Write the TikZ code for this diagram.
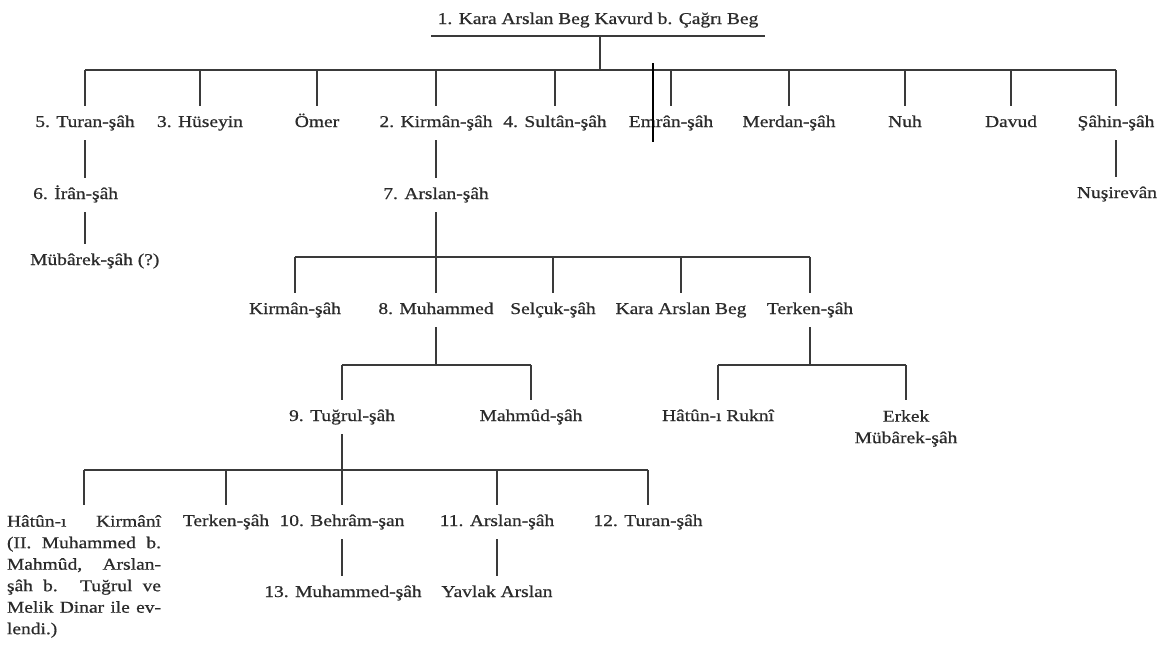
\documentclass[tikz,border=0pt]{standalone}
\usepackage{fontspec}
\setmainfont[FakeStretch=1.18,FakeBold=0.7]{Liberation Serif}
\definecolor{treeInk}{HTML}{2B2B2B}
\definecolor{treeLine}{HTML}{3A3A3A}
\tikzset{
  every picture/.style={font=\fontsize{16.5}{21.5}\selectfont, text=treeInk},
  tree person/.style={inner xsep=2pt, inner ysep=9pt, text height=12pt, text depth=4pt},
  tree note/.style={align=left, inner xsep=0pt, inner ysep=10pt},
  tree line/.style={draw=treeLine, line width=2.1pt},
  stray mark/.style={draw=black, line width=1.2pt}
}
\begin{document}
\begin{tikzpicture}[x=1pt,y=-1pt]
  \useasboundingbox[fill=white] (0,0) rectangle (1168,651);
  % founder
  \node[tree person, inner xsep=6pt, inner ysep=8pt] (kavurd) at (598,20) {1. Kara Arslan Beg Kavurd b. Çağrı Beg};
  \draw[tree line] (kavurd.south west) -- (kavurd.south east);
  \coordinate (b1) at (600,70);
  % his sons
  \node[tree person] (turan) at (85,123) {5. Turan-şâh};
  \node[tree person] (huseyin) at (200,123) {3. Hüseyin};
  \node[tree person] (omer) at (317,123) {Ömer};
  \node[tree person] (kirman) at (436,123) {2. Kirmân-şâh};
  \node[tree person] (sultan) at (555,123) {4. Sultân-şâh};
  \node[tree person] (emran) at (671,123) {Emrân-şâh};
  \node[tree person] (merdan) at (789,123) {Merdan-şâh};
  \node[tree person] (nuh) at (905,123) {Nuh};
  \node[tree person] (davud) at (1011,123) {Davud};
  \node[tree person] (sahin) at (1116,123) {Şâhin-şâh};
  \draw[tree line] (b1 |- kavurd.south) -- (b1);
  \draw[tree line] (turan.north |- b1) -- (sahin.north |- b1);
  \foreach \n in {turan,huseyin,omer,kirman,sultan,emran,merdan,nuh,davud,sahin}
    \draw[tree line] (\n.north |- b1) -- (\n.north);
  \draw[stray mark] (653,63) -- (653,142);
  % Turan-şâh line
  \node[tree person, anchor=west] (iran) at (31,195) {6. İrân-şâh};
  \node[tree person, anchor=west] (mubarek) at (28,261) {Mübârek-şâh (?)};
  \draw[tree line] (turan.south) -- (turan.south |- iran.north);
  \draw[tree line] (turan.south |- iran.south) -- (turan.south |- mubarek.north);
  % Şâhin-şâh line
  \node[tree person] (nusirevan) at (1117,194) {Nuşirevân};
  \draw[tree line] (sahin.south) -- (sahin.south |- nusirevan.north);
  % Kirmân-şâh line
  \node[tree person] (arslan7) at (436,195) {7. Arslan-şâh};
  \draw[tree line] (kirman.south) -- (arslan7.north);
  \coordinate (b2) at (436,257);
  \node[tree person] (kirman2) at (295,310) {Kirmân-şâh};
  \node[tree person] (muhammed) at (436,310) {8. Muhammed};
  \node[tree person] (selcuk) at (553,310) {Selçuk-şâh};
  \node[tree person] (karaarslan) at (681,310) {Kara Arslan Beg};
  \node[tree person] (terken) at (810,310) {Terken-şâh};
  \draw[tree line] (arslan7.south) -- (b2);
  \draw[tree line] (kirman2.north |- b2) -- (terken.north |- b2);
  \foreach \n in {kirman2,muhammed,selcuk,karaarslan,terken}
    \draw[tree line] (\n.north |- b2) -- (\n.north);
  % Muhammed line
  \coordinate (b3) at (436,365);
  \node[tree person] (tugrul) at (342,417) {9. Tuğrul-şâh};
  \node[tree person] (mahmud) at (531,417) {Mahmûd-şâh};
  \draw[tree line] (muhammed.south) -- (b3);
  \draw[tree line] (tugrul.north |- b3) -- (mahmud.north |- b3);
  \foreach \n in {tugrul,mahmud}
    \draw[tree line] (\n.north |- b3) -- (\n.north);
  % Terken-şâh line
  \coordinate (b3t) at (810,365);
  \node[tree person] (hatunr) at (718,417) {Hâtûn-ı Ruknî};
  \node[tree note, align=center, anchor=north] (erkek) at (906,400) {Erkek\\Mübârek-şâh};
  \draw[tree line] (terken.south) -- (b3t);
  \draw[tree line] (hatunr.north |- b3t) -- (erkek.north |- b3t);
  \foreach \n in {hatunr,erkek}
    \draw[tree line] (\n.north |- b3t) -- (\n.north);
  % Tuğrul-şâh line
  \coordinate (b4) at (342,470);
  \node[tree note, anchor=north] (hatunk) at (84,505) {%
    \makebox[154pt][s]{Hâtûn-ı Kirmânî}\\
    \makebox[154pt][s]{(II. Muhammed b.}\\
    \makebox[154pt][s]{Mahmûd, Arslan-}\\
    \makebox[154pt][s]{şâh b. Tuğrul ve}\\
    \makebox[154pt][s]{Melik Dinar ile ev-}\\
    lendi.)};
  \node[tree person] (terken2) at (226,522) {Terken-şâh};
  \node[tree person] (behram) at (342,522) {10. Behrâm-şan};
  \node[tree person] (arslan11) at (497,522) {11. Arslan-şâh};
  \node[tree person] (turan12) at (648,522) {12. Turan-şâh};
  \draw[tree line] (tugrul.south) -- (behram.north);
  \draw[tree line] (hatunk.north |- b4) -- (turan12.north |- b4);
  \foreach \n in {hatunk,terken2,arslan11,turan12}
    \draw[tree line] (\n.north |- b4) -- (\n.north);
  % grandsons
  \node[tree person] (muhammed13) at (343,593) {13. Muhammed-şâh};
  \node[tree person] (yavlak) at (497,593) {Yavlak Arslan};
  \draw[tree line] (behram.south) -- (behram.south |- muhammed13.north);
  \draw[tree line] (arslan11.south) -- (arslan11.south |- yavlak.north);
\end{tikzpicture}
\end{document}
